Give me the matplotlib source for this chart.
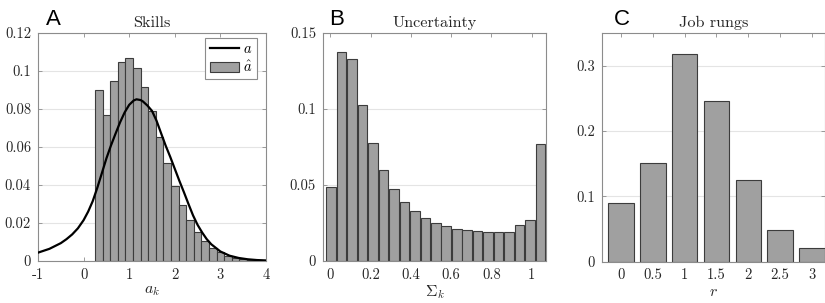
import numpy as np
import matplotlib
matplotlib.use("Agg")
import matplotlib.pyplot as plt

plt.rcParams['font.family'] = ['cmr10', 'DejaVu Serif']
plt.rcParams['mathtext.fontset'] = 'cm'
plt.rcParams['axes.unicode_minus'] = False

# --- data ---
# A: skills histogram (bins of width 1/6 starting at 0.25) and the density curve
skill_bin_start = 0.25
skill_bin_width = 1 / 6
skill_hist = [0.0898, 0.0767, 0.0946, 0.1047, 0.1067, 0.1018, 0.0918, 0.0789,
              0.0651, 0.0514, 0.0395, 0.0293, 0.0214, 0.0151, 0.0104, 0.0068,
              0.0046, 0.0028, 0.0018, 0.0011, 0.0007, 0.0004]
curve_x = [-1.0, -0.75, -0.5, -0.375, -0.25, -0.125, 0.0, 0.1, 0.2, 0.3, 0.4,
           0.5, 0.6, 0.7, 0.8, 0.9, 1.0, 1.1, 1.16, 1.25, 1.3, 1.4, 1.5, 1.6,
           1.7, 1.8, 1.9, 2.0, 2.1, 2.2, 2.3, 2.4, 2.5, 2.6, 2.7, 2.8, 3.0,
           3.2, 3.4, 3.6, 3.8, 4.0]
curve_y = [0.0044, 0.0064, 0.0094, 0.0115, 0.0140, 0.0172, 0.0215, 0.0260,
           0.0315, 0.0385, 0.0462, 0.0540, 0.0608, 0.0670, 0.0730, 0.0782,
           0.0822, 0.0845, 0.0851, 0.0847, 0.0840, 0.0818, 0.0790, 0.0738,
           0.0672, 0.0607, 0.0548, 0.0485, 0.0422, 0.0362, 0.0300, 0.0240,
           0.0190, 0.0150, 0.0115, 0.0088, 0.0050, 0.0028, 0.0016, 0.0009,
           0.0005, 0.0003]

# B: uncertainty histogram
unc_bin_start = -0.02
unc_bin_width = 0.052
unc_hist = [0.0485, 0.1375, 0.1329, 0.1026, 0.0775, 0.0597, 0.0472, 0.0391,
            0.0329, 0.0283, 0.0253, 0.0228, 0.0209, 0.0204, 0.0198, 0.0189,
            0.0189, 0.0193, 0.0235, 0.0268, 0.0767]

# C: job rungs
rungs = [0, 0.5, 1, 1.5, 2, 2.5, 3]
rung_share = [0.0896, 0.151, 0.3185, 0.2453, 0.1249, 0.0486, 0.020]

bar_face = '#a0a0a0'
bar_edge = '#3c3c3c'
spine_col = '#8c8c8c'
text_col = '#262626'

fig = plt.figure(figsize=(8.25, 3.03), dpi=100)
W, H = 825, 303


def make_ax(left, right, top, bottom):
    ax = fig.add_axes([left / W, 1 - bottom / H, (right - left) / W, (bottom - top) / H])
    for s in ax.spines.values():
        s.set_color(spine_col)
        s.set_linewidth(0.8)
    ax.tick_params(direction='in', length=3, width=0.6, color=spine_col,
                   top=True, right=True, labelsize=10.5, labelcolor=text_col, pad=5)
    ax.yaxis.grid(True, color='#e4e4e4', linewidth=0.8)
    ax.set_axisbelow(True)
    return ax


# ---- A ----
axA = make_ax(38, 266, 33, 261)
edges = skill_bin_start + skill_bin_width * np.arange(len(skill_hist))
bars = axA.bar(edges, skill_hist, width=skill_bin_width, align='edge', color=bar_face,
               edgecolor=bar_edge, linewidth=0.8, zorder=2)
line, = axA.plot(curve_x, curve_y, color='black', linewidth=1.6, zorder=3)
axA.set_xlim(-1, 4)
axA.set_ylim(0, 0.12)
axA.set_xticks([-1, 0, 1, 2, 3, 4])
axA.set_xticklabels(['-1', '0', '1', '2', '3', '4'])
axA.set_yticks([0, 0.02, 0.04, 0.06, 0.08, 0.1, 0.12])
axA.set_yticklabels(['0', '0.02', '0.04', '0.06', '0.08', '0.1', '0.12'])
axA.set_xlabel('$a_k$', fontsize=11.5, color=text_col, labelpad=2)
axA.set_title('Skills', fontsize=11.7, color=text_col, pad=4)
leg = axA.legend([line, bars], ['$a$', r'$\hat{a}$'], loc='upper right',
                 fontsize=10.5, handlelength=2.0, handletextpad=0.3,
                 borderpad=0.3, labelspacing=0.25, borderaxespad=0,
                 fancybox=False, framealpha=1, edgecolor=spine_col,
                 bbox_to_anchor=(0.96, 0.978))
leg.get_frame().set_linewidth(0.8)

# ---- B ----
axB = make_ax(323, 546, 33, 261)
edgesB = unc_bin_start + unc_bin_width * np.arange(len(unc_hist))
axB.bar(edgesB, unc_hist, width=unc_bin_width * 0.92, align='edge', color=bar_face,
        edgecolor=bar_edge, linewidth=0.8, zorder=2)
axB.set_xlim(-0.037, 1.072)
axB.set_ylim(0, 0.15)
axB.set_xticks([0, 0.2, 0.4, 0.6, 0.8, 1])
axB.set_xticklabels(['0', '0.2', '0.4', '0.6', '0.8', '1'])
axB.set_yticks([0, 0.05, 0.1, 0.15])
axB.set_yticklabels(['0', '0.05', '0.1', '0.15'])
axB.set_xlabel(r'$\Sigma_k$', fontsize=11.5, color=text_col, labelpad=1)
axB.set_title('Uncertainty', fontsize=11.7, color=text_col, pad=4)

# ---- C ----
axC = make_ax(602, 824.5, 33, 261.5)
axC.bar(rungs, rung_share, width=0.4, color=bar_face, edgecolor=bar_edge,
        linewidth=0.8, zorder=2)
axC.set_xlim(-0.3, 3.2)
axC.set_ylim(0, 0.35)
axC.set_xticks(rungs)
axC.set_xticklabels(['0', '0.5', '1', '1.5', '2', '2.5', '3'])
axC.set_yticks([0, 0.1, 0.2, 0.3])
axC.set_yticklabels(['0', '0.1', '0.2', '0.3'])
axC.set_xlabel('$r$', fontsize=11.5, color=text_col, labelpad=2)
axC.set_title('Job rungs', fontsize=11.7, color=text_col, pad=4)

# panel letters
for x, letter in [(46, 'A'), (329, 'B'), (614, 'C')]:
    fig.text(x / W, 1 - 25 / H, letter, fontsize=16, family='Liberation Sans',
             color='black', va='baseline')

fig.savefig('out.png', dpi=100)
